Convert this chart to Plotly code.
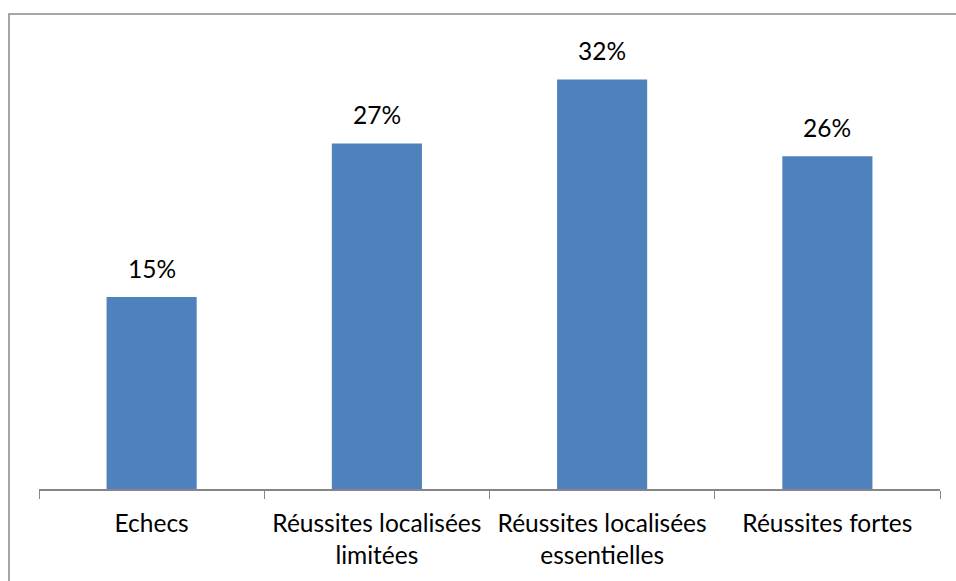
import plotly.graph_objects as go

# Répartition des résultats
categories = ["Echecs", "Réussites localisées limitées",
              "Réussites localisées essentielles", "Réussites fortes"]
tick_labels = ["Echecs", "Réussites localisées<br>limitées",
               "Réussites localisées<br>essentielles", "Réussites fortes"]
values = [15, 27, 32, 26]

BAR_COLOR = "#4F81BD"
AXIS_COLOR = "#868686"
FONT = "Lato"
FONT_SIZE = 24.5

fig = go.Figure(
    go.Bar(
        x=categories,
        y=values,
        marker=dict(color=BAR_COLOR, line=dict(width=0)),
        width=0.4,
        hoverinfo="skip",
    )
)

# value labels above each bar
for cat, v in zip(categories, values):
    fig.add_annotation(
        x=cat, y=v, text=f"{v}%", showarrow=False,
        yanchor="bottom", yshift=12,
        font=dict(family=FONT, size=FONT_SIZE, color="#000000"),
    )

# chart frame
fig.add_shape(
    type="rect", xref="paper", yref="paper",
    x0=-0.0333, x1=1.2, y0=-0.4, y1=1.06,
    line=dict(color="#898989", width=1.5), fillcolor="rgba(0,0,0,0)",
    layer="below",
)

fig.update_layout(
    width=956, height=581,
    margin=dict(l=39, r=16, t=41, b=90, pad=0),
    paper_bgcolor="white", plot_bgcolor="white",
    showlegend=False,
    font=dict(family=FONT, size=FONT_SIZE, color="#000000"),
    xaxis=dict(
        type="category",
        tickvals=categories, ticktext=tick_labels,
        tickson="boundaries",
        ticks="outside", ticklen=8, tickwidth=1, tickcolor=AXIS_COLOR,
        showline=True, linecolor=AXIS_COLOR, linewidth=1.5,
        showgrid=False, zeroline=False,
        ticklabelstandoff=12,
        tickfont=dict(family=FONT, size=FONT_SIZE, color="#000000"),
    ),
    yaxis=dict(
        range=[0, 35], visible=False, showgrid=False, zeroline=False,
    ),
)

fig.write_html("out.html")
